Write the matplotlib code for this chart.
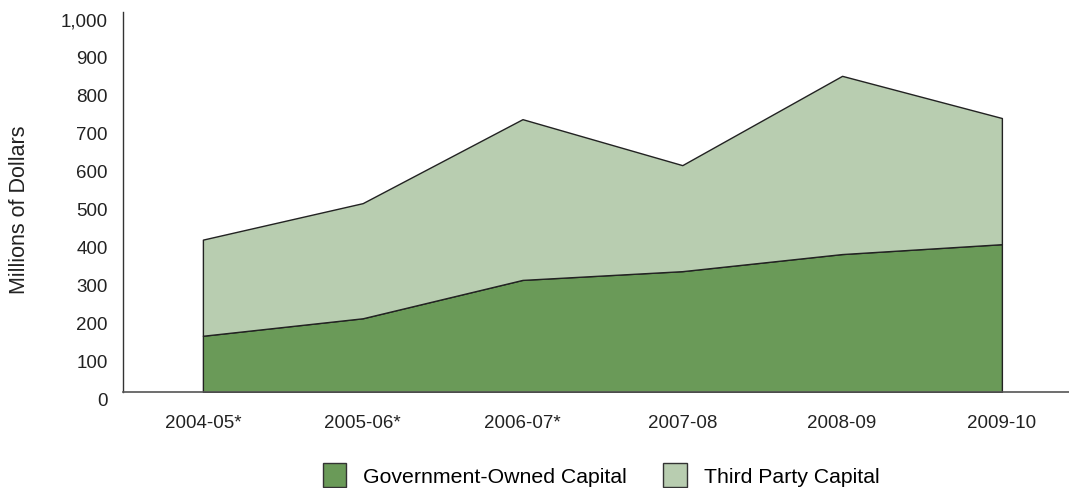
import matplotlib
matplotlib.use("Agg")
import matplotlib.pyplot as plt
import matplotlib.transforms as mtransforms
from matplotlib.patches import Patch

plt.rcParams['font.family'] = ['Liberation Sans', 'DejaVu Sans']

years = ["2004-05*", "2005-06*", "2006-07*", "2007-08", "2008-09", "2009-10"]
government = [148, 194, 295, 318, 363, 389]
total = [401, 497, 718, 597, 832, 721]
third_party = [t - g for t, g in zip(total, government)]

dark = "#6a9a58"
light = "#b8cdb0"

fig = plt.figure(figsize=(10.69, 4.89), dpi=100)
ax = fig.add_axes([123/1069, 1 - 393/489, 1 - 123/1069, (393 - 13)/489])

x = list(range(len(years)))
ax.stackplot(x, government, third_party, colors=[dark, light],
             edgecolor="#222222", linewidth=1.0)

ax.set_xlim(-0.5, 5.42)
ax.set_ylim(0, 1000)
ax.set_yticks(range(0, 1001, 100))
ax.set_yticklabels([f"{v:,}" for v in range(0, 1001, 100)], fontsize=13.5, color="#222222")
ax.set_xticks(x)
ax.set_xticklabels(years, fontsize=13.5, color="#222222")
ax.tick_params(axis='both', length=0)
ax.tick_params(axis='y', pad=11)
ax.tick_params(axis='x', pad=16)

offset = mtransforms.ScaledTranslation(0, -7/100, fig.dpi_scale_trans)
for lab in ax.get_yticklabels():
    lab.set_transform(lab.get_transform() + offset)

for s in ["top", "right"]:
    ax.spines[s].set_visible(False)
ax.spines["left"].set_color("#333333")
ax.spines["bottom"].set_color("#555555")
ax.spines["left"].set_linewidth(1.0)
ax.spines["bottom"].set_linewidth(1.2)

fig.text(20/1069, 1 - 210/489, "Millions of Dollars", rotation=90, fontsize=15.5,
         color="#222222", ha="center", va="center")

handles = [Patch(facecolor=dark, edgecolor="#333333", linewidth=1.0, label="Government-Owned Capital"),
           Patch(facecolor=light, edgecolor="#333333", linewidth=1.0, label="Third Party Capital")]
fig.legend(handles=handles, loc="center", bbox_to_anchor=(601/1069, 1 - 476/489), ncol=2,
           frameon=False, fontsize=15.3, handlelength=1.1, handleheight=1.4,
           columnspacing=1.7, handletextpad=0.8)

fig.savefig("out.png", dpi=100)
